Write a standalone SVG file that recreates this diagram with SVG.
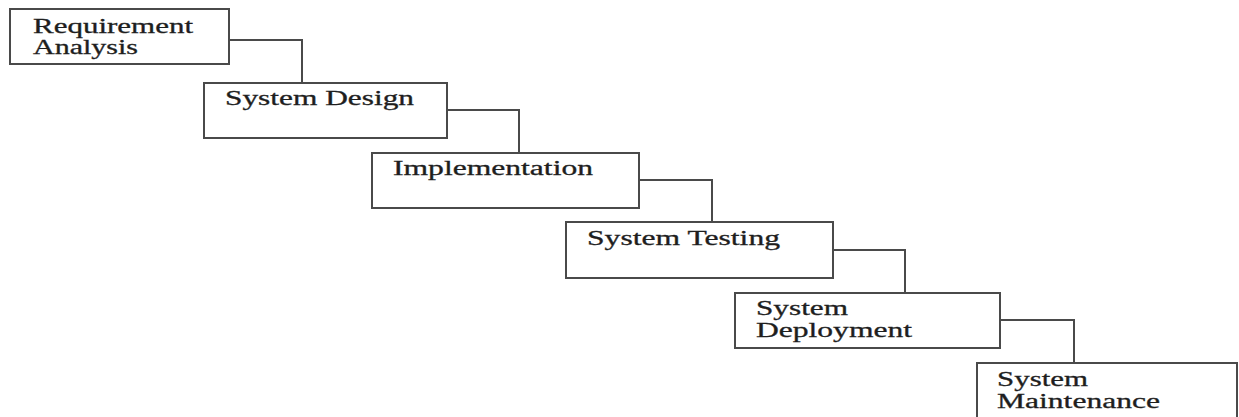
<svg xmlns="http://www.w3.org/2000/svg" width="1239" height="417" viewBox="0 0 1239 417">
<style>
.box{fill:#fff;stroke:#4a4a4a;stroke-width:2}
.lbl{font-family:"Liberation Serif","Times New Roman",serif;font-size:20.5px;fill:#1e1e1e;stroke:#1e1e1e;stroke-width:0.3}
.conn{fill:none;stroke:#4a4a4a;stroke-width:2}
</style>
<rect width="1239" height="417" fill="#fff"/>
<g id="connectors">
<polyline class="conn" points="229,40 302,40 302,83"/>
<polyline class="conn" points="447,110 519,110 519,153"/>
<polyline class="conn" points="639,180 712,180 712,222"/>
<polyline class="conn" points="833,250 905,250 905,293"/>
<polyline class="conn" points="1000,320 1074,320 1074,363"/>
</g>
<g id="requirement-analysis">
<rect class="box" x="10" y="9" width="219" height="55"/>
<text class="lbl" x="33" y="33" textLength="160" lengthAdjust="spacingAndGlyphs">Requirement</text>
<text class="lbl" x="33" y="54" textLength="105" lengthAdjust="spacingAndGlyphs">Analysis</text>
</g>
<g id="system-design">
<rect class="box" x="204" y="83" width="243" height="55"/>
<text class="lbl" x="225" y="105" textLength="189" lengthAdjust="spacingAndGlyphs">System Design</text>
</g>
<g id="implementation">
<rect class="box" x="372" y="153" width="267" height="55"/>
<text class="lbl" x="393" y="175" textLength="200" lengthAdjust="spacingAndGlyphs">Implementation</text>
</g>
<g id="system-testing">
<rect class="box" x="566" y="222" width="267" height="56"/>
<text class="lbl" x="587" y="245" textLength="193" lengthAdjust="spacingAndGlyphs">System Testing</text>
</g>
<g id="system-deployment">
<rect class="box" x="735" y="293" width="265" height="55"/>
<text class="lbl" x="756" y="315" textLength="92" lengthAdjust="spacingAndGlyphs">System</text>
<text class="lbl" x="756" y="337" textLength="156" lengthAdjust="spacingAndGlyphs">Deployment</text>
</g>
<g id="system-maintenance">
<rect class="box" x="977" y="363" width="260" height="70"/>
<text class="lbl" x="997" y="386" textLength="91" lengthAdjust="spacingAndGlyphs">System</text>
<text class="lbl" x="997" y="408" textLength="163" lengthAdjust="spacingAndGlyphs">Maintenance</text>
</g>
</svg>
